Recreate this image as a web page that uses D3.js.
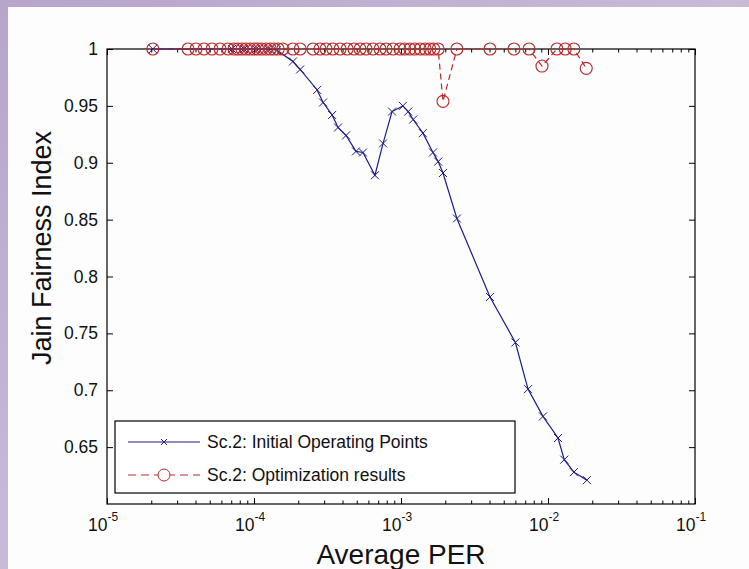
<!DOCTYPE html>
<meta charset="utf-8">
<style>
body { margin: 0; background: #c3b5d3; }
text { font-family: "Liberation Sans", Arial, sans-serif; fill: #111; }
</style>
<body>
<svg id="chart" width="749" height="569"></svg>
</body>
<script src="https://d3js.org/d3.v7.min.js"></script>
<script>

// Sc.2: Initial Operating Points (PER, Jain index)
var initPer = [2.05e-5, 7.08e-5, 8.55e-5, 1.03e-4, 1.25e-4, 1.43e-4, 1.84e-4, 2.06e-4,
  2.69e-4, 2.95e-4, 3.40e-4, 3.73e-4, 4.23e-4, 4.94e-4, 5.51e-4, 6.65e-4, 7.55e-4,
  8.69e-4, 1.03e-3, 1.12e-3, 1.21e-3, 1.41e-3, 1.65e-3, 1.79e-3, 1.93e-3, 2.40e-3,
  4.03e-3, 6.0e-3, 7.31e-3, 9.24e-3, 1.17e-2, 1.29e-2, 1.50e-2, 1.84e-2];
var initJain = [1.0, 1.0, 1.0, 1.0, 1.0, 0.999, 0.989, 0.982,
  0.964, 0.953, 0.942, 0.931, 0.924, 0.910, 0.909, 0.889, 0.917,
  0.945, 0.950, 0.945, 0.938, 0.926, 0.909, 0.901, 0.891, 0.851,
  0.782, 0.742, 0.701, 0.677, 0.658, 0.639, 0.628, 0.621];

// Sc.2: Optimization results
var optPer = [2.05e-5, 3.56e-5, 4.03e-5, 4.57e-5, 5.18e-5, 5.87e-5, 6.65e-5, 7.31e-5,
  7.78e-5, 8.28e-5, 8.83e-5, 9.40e-5, 1.00e-4, 1.06e-4, 1.13e-4, 1.21e-4, 1.29e-4,
  1.37e-4, 1.46e-4, 1.57e-4, 1.84e-4, 2.06e-4, 2.52e-4, 2.81e-4, 3.09e-4, 3.44e-4,
  3.85e-4, 4.30e-4, 4.79e-4, 5.26e-4, 5.78e-4, 6.45e-4, 7.20e-4, 7.91e-4, 8.83e-4,
  9.84e-4, 1.06e-3, 1.15e-3, 1.24e-3, 1.35e-3, 1.46e-3, 1.57e-3, 1.67e-3, 1.79e-3,
  1.93e-3, 2.40e-3, 4.03e-3, 5.87e-3, 7.43e-3, 9.10e-3, 1.15e-2, 1.31e-2, 1.50e-2, 1.82e-2];
var optJain = [1, 1, 1, 1, 1, 1, 1, 1, 1, 1, 1, 1, 1, 1, 1, 1, 1, 1, 1, 1,
  1, 1, 1, 1, 1, 1, 1, 1, 1, 1, 1, 1, 1, 1, 1, 1, 1, 1, 1, 1, 1, 1, 1, 1,
  0.954, 1, 1, 1, 1, 0.985, 1, 1, 1, 0.983];

var yTicks = [0.65, 0.7, 0.75, 0.8, 0.85, 0.9, 0.95, 1];
var yTickLabels = ["0.65", "0.7", "0.75", "0.8", "0.85", "0.9", "0.95", "1"];
var xTickExp = [-5, -4, -3, -2, -1];
var legendLabels = ["Sc.2: Initial Operating Points", "Sc.2: Optimization results"];

var plotL = 107, plotR = 695, plotT = 49, plotB = 504;

var svg = d3.select("#chart");

// slide background + figure area
var grad = svg.append("defs").append("linearGradient")
    .attr("id", "bg").attr("x1", 0).attr("y1", 0).attr("x2", 1).attr("y2", 1);
grad.append("stop").attr("offset", 0).attr("stop-color", "#b7a5cb");
grad.append("stop").attr("offset", 1).attr("stop-color", "#d9d0e4");
svg.append("rect").attr("width", 749).attr("height", 569).attr("fill", "url(#bg)");
svg.append("rect").attr("x", 8).attr("y", 7).attr("width", 741).attr("height", 562)
    .attr("fill", "#fdfdfd");

var x = d3.scaleLog().domain([1e-5, 1e-1]).range([plotL, plotR]);
var y = d3.scaleLinear().domain([0.6, 1]).range([plotB, plotT]);

var majors = xTickExp.map(function(e) { return Math.pow(10, e); });
var minors = [];
xTickExp.slice(0, -1).forEach(function(e) {
  for (var k = 2; k <= 9; k++) minors.push(k * Math.pow(10, e));
});

function styleAxis(g) {
  g.select(".domain").remove();
  g.selectAll(".tick line").attr("stroke", "#000");
}

// ticks pointing inward on all four sides
svg.append("g").attr("transform", "translate(0," + plotB + ")")
    .call(d3.axisBottom(x).tickValues(majors).tickSize(-6).tickFormat(""))
    .call(styleAxis);
svg.append("g").attr("transform", "translate(0," + plotB + ")")
    .call(d3.axisBottom(x).tickValues(minors).tickSize(-3.5).tickFormat(""))
    .call(styleAxis);
svg.append("g").attr("transform", "translate(0," + plotT + ")")
    .call(d3.axisTop(x).tickValues(majors).tickSize(-6).tickFormat(""))
    .call(styleAxis);
svg.append("g").attr("transform", "translate(0," + plotT + ")")
    .call(d3.axisTop(x).tickValues(minors).tickSize(-3.5).tickFormat(""))
    .call(styleAxis);
svg.append("g").attr("transform", "translate(" + plotL + ",0)")
    .call(d3.axisLeft(y).tickValues(yTicks).tickSize(-6).tickFormat(""))
    .call(styleAxis);
svg.append("g").attr("transform", "translate(" + plotR + ",0)")
    .call(d3.axisRight(y).tickValues(yTicks).tickSize(-6).tickFormat(""))
    .call(styleAxis);

svg.append("rect")
    .attr("x", plotL).attr("y", plotT)
    .attr("width", plotR - plotL).attr("height", plotB - plotT)
    .attr("fill", "none").attr("stroke", "#000").attr("stroke-width", 1.2);

// y tick labels
svg.selectAll(".ylab").data(yTicks).enter().append("text")
    .attr("x", plotL - 9)
    .attr("y", function(d) { return y(d) + 6; })
    .attr("text-anchor", "end")
    .attr("font-size", 17.5)
    .text(function(d, i) { return yTickLabels[i]; });

// x tick labels 10^n
var xl = svg.selectAll(".xlab").data(xTickExp).enter().append("text")
    .attr("x", function(d) { return x(Math.pow(10, d)) - 4; })
    .attr("y", 531)
    .attr("text-anchor", "middle")
    .attr("font-size", 17.5);
xl.append("tspan").text("10");
xl.append("tspan").attr("dy", -10).attr("font-size", 12)
    .text(function(d) { return "-" + Math.abs(d); });

// axis titles
svg.append("text")
    .attr("x", (plotL + plotR) / 2 + 0).attr("y", 564)
    .attr("text-anchor", "middle").attr("font-size", 28)
    .text("Average PER");
svg.append("text")
    .attr("transform", "translate(51,248) rotate(-90)")
    .attr("text-anchor", "middle").attr("font-size", 27)
    .text("Jain Fairness Index");

var blue = "#1c1c86", red = "#bb2a2a";

var line = d3.line()
    .x(function(d) { return x(d[0]); })
    .y(function(d) { return y(d[1]); });

var initData = d3.zip(initPer, initJain);
var optData = d3.zip(optPer, optJain);

function crossPath(cx, cy, s) {
  return "M" + (cx - s) + "," + (cy - s) + "L" + (cx + s) + "," + (cy + s) +
    "M" + (cx - s) + "," + (cy + s) + "L" + (cx + s) + "," + (cy - s);
}

// initial operating points
svg.append("path").datum(initData)
    .attr("d", line).attr("fill", "none")
    .attr("stroke", blue).attr("stroke-width", 1.2);
svg.selectAll(".xm").data(initData).enter().append("path")
    .attr("d", function(d) { return crossPath(x(d[0]), y(d[1]), 4); })
    .attr("stroke", blue).attr("stroke-width", 1);

// optimization results
svg.append("path").datum(optData)
    .attr("d", line).attr("fill", "none")
    .attr("stroke", red).attr("stroke-width", 1.2)
    .attr("stroke-dasharray", "6,4");
svg.selectAll(".om").data(optData).enter().append("circle")
    .attr("cx", function(d) { return x(d[0]); })
    .attr("cy", function(d) { return y(d[1]); })
    .attr("r", 6)
    .attr("fill", "none").attr("stroke", red).attr("stroke-width", 1.1);

// legend
var lg = svg.append("g");
lg.append("rect").attr("x", 115).attr("y", 421).attr("width", 400).attr("height", 72)
    .attr("fill", "#fff").attr("stroke", "#000").attr("stroke-width", 1.2);
var rows = [442, 475];
lg.append("line").attr("x1", 128).attr("x2", 200).attr("y1", rows[0]).attr("y2", rows[0])
    .attr("stroke", blue).attr("stroke-width", 1.2);
lg.append("path").attr("d", crossPath(164, rows[0], 3)).attr("stroke", blue);
lg.append("line").attr("x1", 128).attr("x2", 200).attr("y1", rows[1]).attr("y2", rows[1])
    .attr("stroke", red).attr("stroke-width", 1.2).attr("stroke-dasharray", "8,5");
lg.append("circle").attr("cx", 164).attr("cy", rows[1]).attr("r", 6)
    .attr("fill", "#fff").attr("stroke", red);
lg.selectAll(".lt").data(legendLabels).enter().append("text")
    .attr("x", 207)
    .attr("y", function(d, i) { return rows[i] + 6; })
    .attr("font-size", 17.5)
    .text(function(d) { return d; });

</script>
